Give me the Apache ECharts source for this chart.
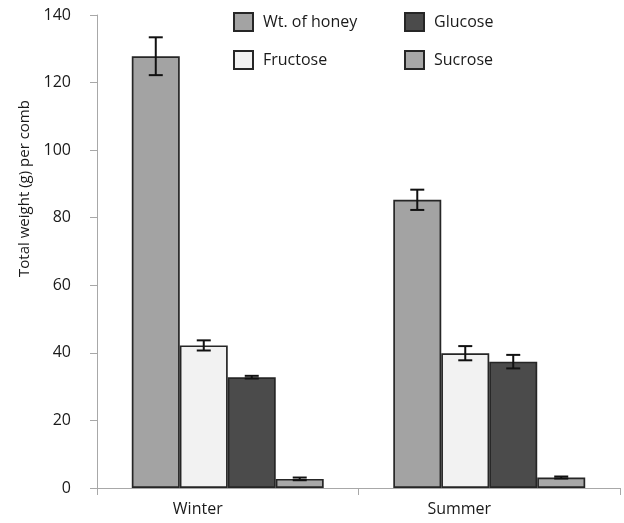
<!DOCTYPE html>
<html>
<head>
<meta charset="utf-8">
<script src="https://cdn.jsdelivr.net/npm/echarts@6/dist/echarts.min.js"></script>
<style>
html,body{margin:0;padding:0;background:#fff;}
#chart{width:624px;height:523px;}
</style>
</head>
<body>
<div id="chart"></div>
<script>
const categories = ['Winter', 'Summer'];
const seriesNames = ['Wt. of honey', 'Fructose', 'Glucose', 'Sucrose'];
const yTicks = [0, 20, 40, 60, 80, 100, 120, 140];
const honey = [127.8, 85.3];
const fructose = [42.2, 39.9];
const glucose = [32.8, 37.4];
const sucrose = [2.7, 3.1];
const honeyErr = [5.6, 3.0];
const fructoseErr = [1.5, 2.1];
const glucoseErr = [0.4, 2.0];
const sucroseErr = [0.4, 0.3];
const colors = ['#a3a3a3', '#f2f2f2', '#4b4b4b', '#a8a8a8'];

const values = [honey, fructose, glucose, sucrose];
const errors = [honeyErr, fructoseErr, glucoseErr, sucroseErr];
const FONT = 'Open Sans';
const CAT_GAP = 0.266;

const barSeries = seriesNames.map((name, i) => ({
  name: name,
  type: 'bar',
  data: values[i],
  barGap: '0%',
  barCategoryGap: (CAT_GAP * 100) + '%',
  itemStyle: { color: colors[i], borderColor: '#262626', borderWidth: 1.7 },
  emphasis: { disabled: true }
}));

const errData = [];
values.forEach((arr, si) => {
  arr.forEach((v, ci) => { errData.push([ci, v, errors[si][ci], si]); });
});

const errSeries = {
  type: 'custom',
  z: 10,
  silent: true,
  data: errData,
  encode: { x: 0, y: 1 },
  renderItem: function (params, api) {
    const ci = api.value(0), v = api.value(1), e = api.value(2), si = api.value(3);
    const band = api.size([1, 0])[0];
    const bw = band * (1 - CAT_GAP) / 4;
    const c = api.coord([ci, v]);
    const x = c[0] - 2 * bw + (si + 0.5) * bw;
    const yTop = api.coord([ci, v + e])[1];
    const yBot = api.coord([ci, v - e])[1];
    const half = 7;
    const st = { stroke: '#111', lineWidth: 2 };
    return {
      type: 'group',
      children: [
        { type: 'line', shape: { x1: x, y1: yTop, x2: x, y2: yBot }, style: st },
        { type: 'line', shape: { x1: x - half, y1: yTop, x2: x + half, y2: yTop }, style: st },
        { type: 'line', shape: { x1: x - half, y1: yBot, x2: x + half, y2: yBot }, style: st }
      ]
    };
  }
};

const legendCommon = {
  orient: 'vertical',
  top: 7,
  itemWidth: 19,
  itemHeight: 18,
  itemGap: 18,
  icon: 'rect',
  selectedMode: false,
  textStyle: { fontFamily: FONT, fontSize: 16, color: '#1a1a1a', padding: [0, 0, 0, 5] }
};

const chart = echarts.init(document.getElementById('chart'), null, { renderer: 'canvas' });
chart.setOption({
  animation: false,
  backgroundColor: '#fff',
  textStyle: { fontFamily: FONT },
  legend: [
    Object.assign({}, legendCommon, { left: 228, data: [seriesNames[0], seriesNames[1]] }),
    Object.assign({}, legendCommon, { left: 399, data: [seriesNames[2], seriesNames[3]] })
  ],
  grid: { left: 97, right: 4, top: 15, bottom: 35, containLabel: false },
  xAxis: {
    type: 'category',
    data: categories,
    boundaryGap: true,
    axisLine: { lineStyle: { color: '#a8a8a8', width: 1 } },
    axisTick: { show: true, length: 7, lineStyle: { color: '#a8a8a8' } },
    axisLabel: { fontFamily: FONT, fontSize: 16, color: '#1a1a1a', margin: 13, padding: [0, 60, 0, 0] }
  },
  yAxis: {
    type: 'value',
    min: yTicks[0],
    max: yTicks[yTicks.length - 1],
    interval: yTicks[1] - yTicks[0],
    name: 'Total weight (g) per comb',
    nameLocation: 'middle',
    nameGap: 64,
    nameTextStyle: { fontFamily: FONT, fontSize: 15, color: '#1a1a1a', padding: [0, 0, 0, 126] },
    axisLine: { show: true, lineStyle: { color: '#a8a8a8', width: 1 } },
    axisTick: { show: true, length: 7, lineStyle: { color: '#a8a8a8' } },
    axisLabel: { fontFamily: FONT, fontSize: 16, color: '#1a1a1a', margin: 26 },
    splitLine: { show: false }
  },
  series: barSeries.concat([errSeries])
});
</script>
</body>
</html>
